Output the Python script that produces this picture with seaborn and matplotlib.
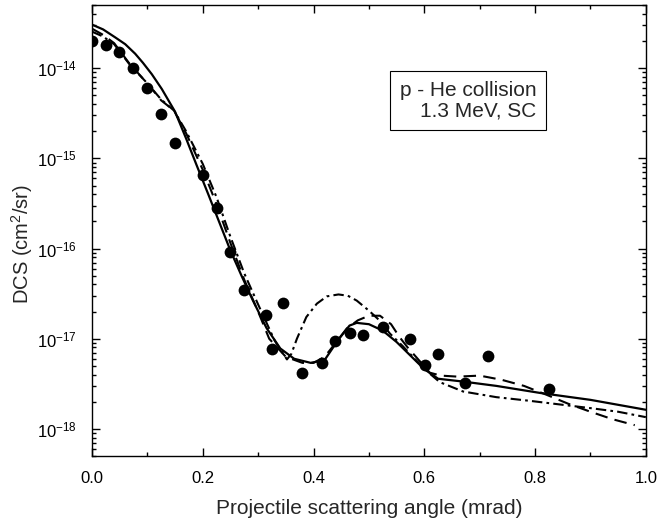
import numpy as np
import pandas as pd
import matplotlib
matplotlib.use("Agg")
import matplotlib.pyplot as plt
import matplotlib.ticker as mticker
import seaborn as sns

# ---------------- data ----------------
exp_x = [0.0, 0.025, 0.049, 0.074, 0.1, 0.125, 0.149, 0.2, 0.225, 0.25, 0.275,
         0.315, 0.325, 0.345, 0.38, 0.415, 0.439, 0.465, 0.49, 0.525, 0.574,
         0.601, 0.625, 0.674, 0.715, 0.825]
exp_y = [2.0e-14, 1.82e-14, 1.52e-14, 1.0e-14, 6.0e-15, 3.1e-15, 1.5e-15, 6.6e-16,
         2.8e-16, 9.1e-17, 3.5e-17, 1.82e-17, 7.6e-18, 2.5e-17, 4.2e-18, 5.4e-18,
         9.5e-18, 1.17e-17, 1.1e-17, 1.35e-17, 1.0e-17, 5.1e-18, 6.8e-18, 3.2e-18,
         6.5e-18, 2.8e-18]

solid_x = [0, 0.02, 0.042, 0.06, 0.078, 0.092, 0.108, 0.126, 0.15, 0.17, 0.19, 0.21,
           0.23, 0.25, 0.27, 0.29, 0.315, 0.34, 0.365, 0.395, 0.42, 0.445, 0.465,
           0.478, 0.5, 0.525, 0.55, 0.575, 0.6, 0.625, 0.67, 0.73, 0.81, 0.9, 1.0]
solid_y = [3.05e-14, 2.7e-14, 2.2e-14, 1.85e-14, 1.45e-14, 1.15e-14, 8.6e-15, 5.9e-15,
           3.3e-15, 1.66e-15, 8.1e-16, 4.0e-16, 1.95e-16, 9.5e-17, 5.0e-17, 2.7e-17,
           1.32e-17, 7.8e-18, 6.0e-18, 5.4e-18, 5.8e-18, 9.8e-18, 1.4e-17, 1.5e-17,
           1.45e-17, 1.23e-17, 9.2e-18, 6.5e-18, 4.6e-18, 3.6e-18, 3.35e-18, 3.0e-18,
           2.5e-18, 2.1e-18, 1.63e-18]

dash_x = [0, 0.02, 0.04, 0.068, 0.1, 0.125, 0.148, 0.17, 0.2, 0.225, 0.25, 0.275,
          0.3, 0.32, 0.35, 0.38, 0.4, 0.42, 0.44, 0.46, 0.48, 0.5, 0.52, 0.54, 0.555,
          0.57, 0.586, 0.61, 0.63, 0.66, 0.7, 0.74, 0.78, 0.82, 0.86, 0.9, 0.94, 0.98]
dash_y = [2.75e-14, 2.35e-14, 1.9e-14, 1.12e-14, 6.8e-15, 4.4e-15, 3.4e-15, 1.9e-15,
          7.5e-16, 3.1e-16, 1.15e-16, 4.5e-17, 2.0e-17, 1.0e-17, 6.3e-18, 5.4e-18,
          5.4e-18, 6.3e-18, 9.0e-18, 1.3e-17, 1.6e-17, 1.8e-17, 1.8e-17, 1.45e-17,
          1.05e-17, 8.0e-18, 6.2e-18, 4.2e-18, 3.9e-18, 3.8e-18, 3.9e-18, 3.5e-18,
          3.0e-18, 2.4e-18, 1.9e-18, 1.55e-18, 1.28e-18, 1.1e-18]

dd_x = [0, 0.02, 0.04, 0.068, 0.1, 0.125, 0.148, 0.17, 0.2, 0.225, 0.25, 0.275, 0.3,
        0.33, 0.352, 0.36, 0.37, 0.387, 0.406, 0.424, 0.445, 0.462, 0.478, 0.5, 0.52,
        0.538, 0.561, 0.586, 0.61, 0.628, 0.67, 0.73, 0.79, 0.85, 0.9, 0.95, 1.0]
dd_y = [2.55e-14, 2.25e-14, 1.85e-14, 1.1e-14, 6.8e-15, 4.5e-15, 3.4e-15, 2.0e-15,
        8.7e-16, 3.7e-16, 1.35e-16, 5.3e-17, 2.4e-17, 9.5e-18, 5.9e-18, 6.8e-18,
        1.0e-17, 1.74e-17, 2.45e-17, 2.95e-17, 3.1e-17, 3.0e-17, 2.65e-17, 2.05e-17,
        1.58e-17, 1.14e-17, 8.3e-18, 5.7e-18, 4.1e-18, 3.3e-18, 2.6e-18, 2.25e-18,
        2.05e-18, 1.85e-18, 1.7e-18, 1.55e-18, 1.35e-18]

y_major = [1e-18, 1e-17, 1e-16, 1e-15, 1e-14]
x_label = "Projectile scattering angle (mrad)"
y_label = "DCS (cm$^2$/sr)"
box_text = "p - He collision\n1.3 MeV, SC"

# ---------------- style ----------------
sns.set_style("ticks")
plt.rcParams["font.family"] = ["Liberation Sans", "DejaVu Sans"]
plt.rcParams["mathtext.default"] = "regular"

fig = plt.figure(figsize=(6.57, 5.26), dpi=100)
ax = fig.add_axes([0.140, 0.133, 0.843, 0.857])
ax.set_yscale("log")

sns.lineplot(x=solid_x, y=solid_y, ax=ax, color="black", lw=1.6,
             estimator=None, sort=False)
sns.lineplot(x=dash_x, y=dash_y, ax=ax, color="black", lw=1.5,
             estimator=None, sort=False, linestyle=(0, (6, 3.5)))
sns.lineplot(x=dd_x, y=dd_y, ax=ax, color="black", lw=1.5,
             estimator=None, sort=False, linestyle=(0, (5, 2, 1.3, 2)))
sns.scatterplot(x=exp_x, y=exp_y, ax=ax, color="black", s=72,
                edgecolor="black", linewidth=0, zorder=5)

ax.set_xlim(0, 1.0)
ax.set_ylim(5e-19, 5e-14)

ax.xaxis.set_major_locator(mticker.MultipleLocator(0.2))
ax.xaxis.set_minor_locator(mticker.MultipleLocator(0.1))
ax.xaxis.set_major_formatter(mticker.FormatStrFormatter("%.1f"))
ax.yaxis.set_major_locator(mticker.FixedLocator(y_major))
ax.yaxis.set_major_formatter(mticker.LogFormatterMathtext())
ax.yaxis.set_minor_locator(mticker.LogLocator(base=10, subs=np.arange(2, 10), numticks=20))
ax.yaxis.set_minor_formatter(mticker.NullFormatter())

ax.tick_params(which="both", direction="in", top=True, right=True,
               width=1.0, labelsize=12, colors="black")
ax.tick_params(which="major", length=5.5, pad=11)
ax.tick_params(which="minor", length=3)
for sp in ax.spines.values():
    sp.set_visible(True)
    sp.set_linewidth(1.0)
    sp.set_color("black")

ax.set_xlabel(x_label, fontsize=15, labelpad=9)
ax.set_ylabel(y_label, fontsize=14.5)
ax.yaxis.set_label_coords(-0.103, 0.47)

ax.text(0.679, 0.789, box_text, transform=ax.transAxes, ha="center", va="center",
        multialignment="right", fontsize=15, linespacing=1.1,
        bbox=dict(boxstyle="square,pad=0.45", fc="white", ec="black", lw=0.8))

fig.savefig("out.png", dpi=100)
